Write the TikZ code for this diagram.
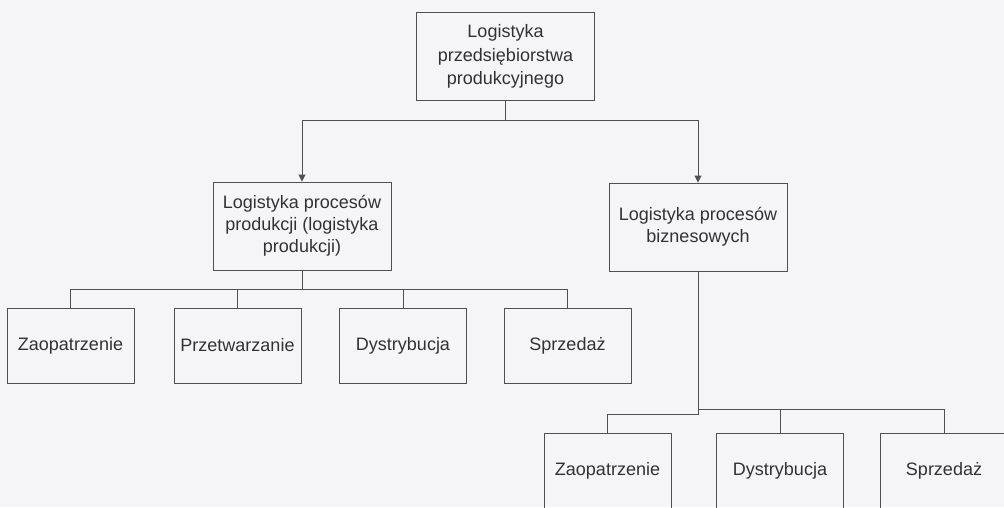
\documentclass[tikz,border=0pt]{standalone}
\usepackage{fontspec}
\setmainfont{Liberation Sans}
\usetikzlibrary{arrows.meta}
\definecolor{bg}{RGB}{245,245,247}
\definecolor{ln}{RGB}{80,80,80}
\definecolor{tx}{RGB}{50,50,50}
\tikzset{
  box/.style={draw=ln, line width=0.9pt, align=center, inner sep=0pt,
    text=tx, font=\fontsize{18}{22}\selectfont},
  bigbox/.style={box, minimum width=178pt, minimum height=88pt},
  smallbox/.style={box, minimum width=127pt, minimum height=75pt},
  conn/.style={draw=ln, line width=0.9pt},
  arr/.style={conn, -{Triangle[width=7pt,length=7pt]}}
}
\begin{document}
\begin{tikzpicture}[x=1pt,y=-1pt]
\fill[bg] (0,0) rectangle (1004,507);
\useasboundingbox (0,0) rectangle (1004,507);
% boxes
\node[bigbox, font=\fontsize{18}{23.5}\selectfont] (top) at (505.5,56.5) {Logistyka\\przedsiębiorstwa\\produkcyjnego};
\node[bigbox] (prod) at (302,226) {Logistyka procesów\\produkcji (logistyka\\produkcji)};
\node[bigbox] (biz) at (698,227) {Logistyka procesów\\biznesowych};
\node[smallbox] (z1) at (70.5,345.5) {Zaopatrzenie};
\node[smallbox] (p1) at (237.5,345.5) {Przetwarzanie};
\node[smallbox] (d1) at (403,345.5) {Dystrybucja};
\node[smallbox] (s1) at (567.5,345.5) {Sprzedaż};
\node[smallbox] (z2) at (607.5,470.5) {Zaopatrzenie};
\node[smallbox] (d2) at (780,470.5) {Dystrybucja};
\node[smallbox] (s2) at (944,470.5) {Sprzedaż};
% junctions
\coordinate (j1) at (505.5,120);
\coordinate (j2) at (302,289.5);
\coordinate (j3) at (698,414);
\coordinate (j4) at (698,409);
% connectors
\draw[conn] (top.south) -- (j1);
\draw[arr] (j1) -| (prod.north);
\draw[arr] (j1) -| (biz.north);
\draw[conn] (prod.south) -- (j2);
\draw[conn] (j2) -| (z1.north);
\draw[conn] (j2) -| (s1.north);
\draw[conn] (p1.north |- j2) -- (p1.north);
\draw[conn] (d1.north |- j2) -- (d1.north);
\draw[conn] (biz.south) -- (j3) -| (z2.north);
\draw[conn] (j4) -| (s2.north);
\draw[conn] (d2.north |- j4) -- (d2.north);
\end{tikzpicture}
\end{document}
